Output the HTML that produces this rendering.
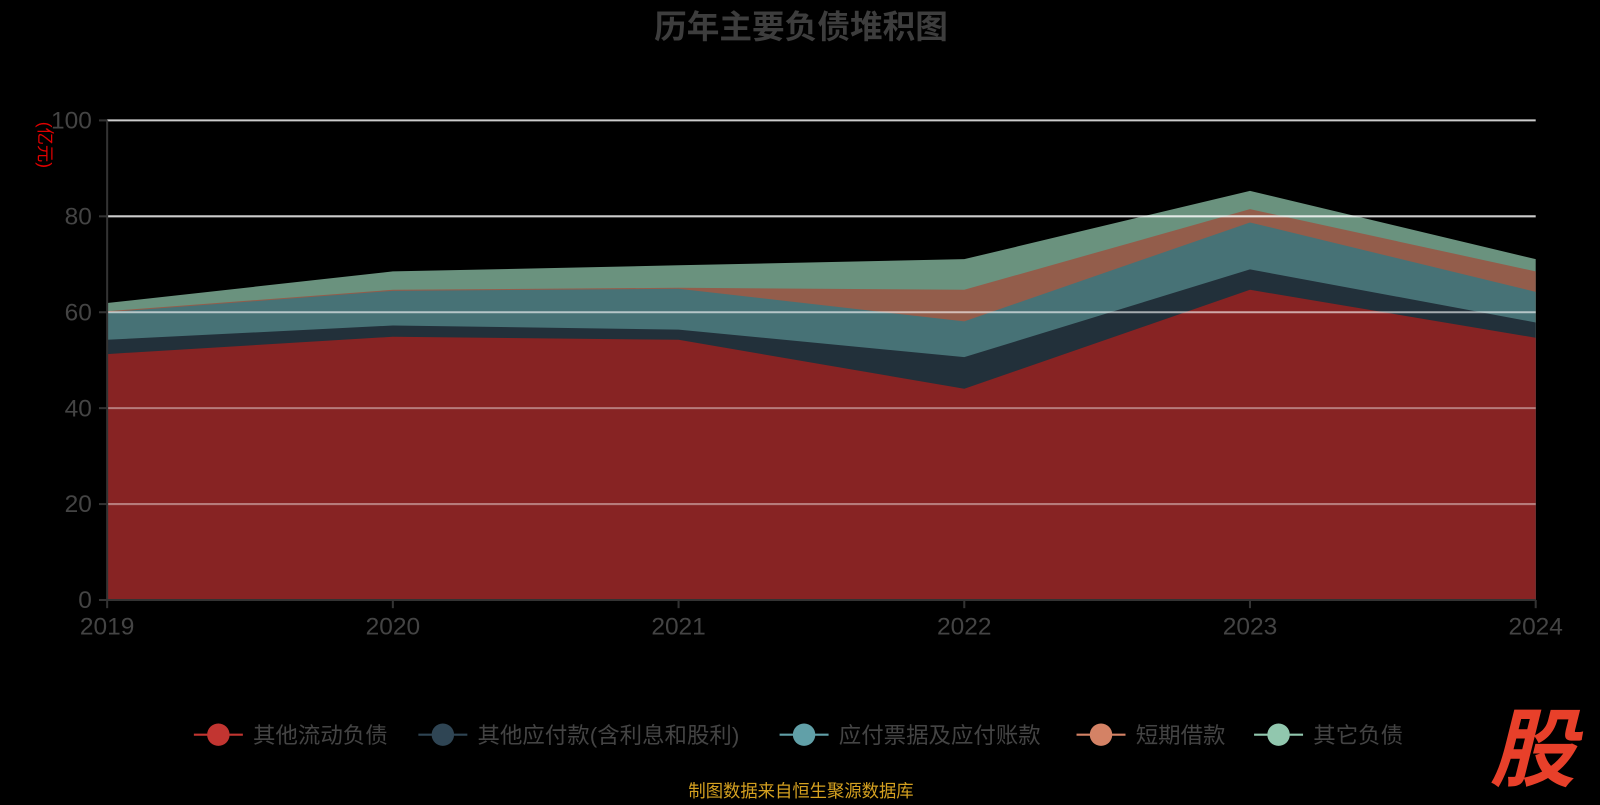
<!DOCTYPE html>
<html><head><meta charset="utf-8"><style>
body{margin:0;background:#000;width:1600px;height:800px;overflow:hidden;font-family:"Liberation Sans","Noto Sans CJK SC",sans-serif}
</style></head><body>
<svg width="1600" height="800" xmlns="http://www.w3.org/2000/svg" font-family="Liberation Sans, Noto Sans CJK SC, sans-serif">
<rect width="1600" height="800" fill="#000"/>
<g transform="scale(1.0204)">
<text x="785" y="37" text-anchor="middle" font-size="32" font-weight="bold" fill="#3d3d3d">历年主要负债堆积图</text>
<text transform="translate(38,142) rotate(90)" text-anchor="middle" font-size="17" fill="#e00000">(亿元)</text>
<polygon fill="#6a927e" points="105,297 385,266 665,260 945,254 1225,187 1505,254 1505,588 105,588"/>
<polygon fill="#935d4b" points="105,305 385,284 665,282 945,284 1225,205 1505,266 1505,588 105,588"/>
<polygon fill="#477276" points="105,306 385,285 665,283 945,315 1225,218 1505,286 1505,588 105,588"/>
<polygon fill="#22303a" points="105,333 385,319 665,323 945,350 1225,264 1505,316 1505,588 105,588"/>
<polygon fill="#872323" points="105,347 385,330 665,333 945,381 1225,284 1505,331 1505,588 105,588"/>
<g stroke="#fff" stroke-opacity="0.8" stroke-width="2">
<line x1="105" y1="118" x2="1505" y2="118"/><line x1="105" y1="212" x2="1505" y2="212"/>
<line x1="105" y1="306" x2="1505" y2="306" stroke-opacity="0.6"/><line x1="105" y1="400" x2="1505" y2="400" stroke-opacity="0.4"/>
<line x1="105" y1="494" x2="1505" y2="494" stroke-opacity="0.4"/>
</g>
<line x1="105" y1="118" x2="105" y2="588" stroke="#333" stroke-width="2"/>
<line x1="105" y1="588" x2="1505" y2="588" stroke="#333" stroke-width="2"/>
<g stroke="#333" stroke-width="2">
<line x1="97" y1="118" x2="105" y2="118"/><line x1="97" y1="212" x2="105" y2="212"/><line x1="97" y1="306" x2="105" y2="306"/><line x1="97" y1="400" x2="105" y2="400"/><line x1="97" y1="494" x2="105" y2="494"/><line x1="97" y1="588" x2="105" y2="588"/>
<line x1="105" y1="588" x2="105" y2="596"/><line x1="385" y1="588" x2="385" y2="596"/><line x1="665" y1="588" x2="665" y2="596"/><line x1="945" y1="588" x2="945" y2="596"/><line x1="1225" y1="588" x2="1225" y2="596"/><line x1="1505" y1="588" x2="1505" y2="596"/>
</g>
<g fill="#444" font-size="24" text-anchor="end">
<text x="90" y="126">100</text><text x="90" y="220">80</text><text x="90" y="314">60</text><text x="90" y="408">40</text><text x="90" y="502">20</text><text x="90" y="596">0</text>
</g>
<g fill="#444" font-size="24" text-anchor="middle">
<text x="105" y="622">2019</text><text x="385" y="622">2020</text><text x="665" y="622">2021</text><text x="945" y="622">2022</text><text x="1225" y="622">2023</text><text x="1505" y="622">2024</text>
</g>
<g font-size="22" fill="#444">
<line x1="190" y1="720" x2="238" y2="720" stroke="#c23531" stroke-width="2"/><circle cx="214" cy="720" r="11" fill="#c23531"/><text x="248" y="728">其他流动负债</text>
<line x1="410" y1="720" x2="458" y2="720" stroke="#2f4554" stroke-width="2"/><circle cx="434" cy="720" r="11" fill="#2f4554"/><text x="468" y="728">其他应付款(含利息和股利)</text>
<line x1="764" y1="720" x2="812" y2="720" stroke="#61a0a8" stroke-width="2"/><circle cx="788" cy="720" r="11" fill="#61a0a8"/><text x="822" y="728">应付票据及应付账款</text>
<line x1="1055" y1="720" x2="1103" y2="720" stroke="#d48265" stroke-width="2"/><circle cx="1079" cy="720" r="11" fill="#d48265"/><text x="1113" y="728">短期借款</text>
<line x1="1229" y1="720" x2="1277" y2="720" stroke="#91c7ae" stroke-width="2"/><circle cx="1253" cy="720" r="11" fill="#91c7ae"/><text x="1287" y="728">其它负债</text>
</g>
<text x="785" y="781" text-anchor="middle" font-size="17" fill="#d4a020">制图数据来自恒生聚源数据库</text>
<text x="1502" y="764" text-anchor="middle" font-size="84" font-weight="bold" font-style="italic" fill="#e8402a">股</text>
</g>
</svg>
</body></html>
